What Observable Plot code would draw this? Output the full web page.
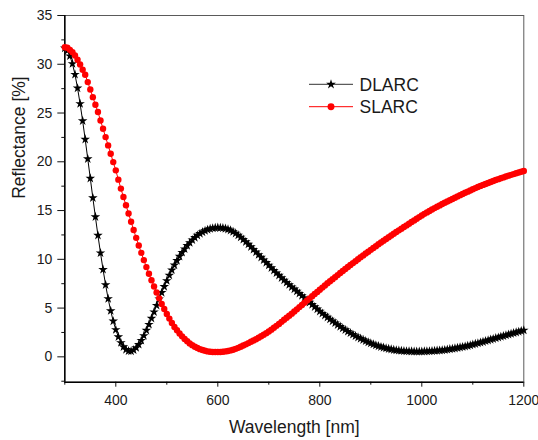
<!DOCTYPE html>
<html>
<head>
<meta charset="utf-8">
<script src="https://cdn.jsdelivr.net/npm/d3@7"></script>
<script src="https://cdn.jsdelivr.net/npm/@observablehq/plot@0.6"></script>
<style>
  html, body { margin: 0; padding: 0; background: #fff; }
  #chart { position: relative; width: 538px; height: 440px; }
</style>
</head>
<body>
<div id="chart"></div>
<script>
// Wavelength grid (nm)
const wavelength = [
  300,305,310,315,320,325,330,335,340,345,
  350,355,360,365,370,375,380,385,390,395,
  400,405,410,415,420,425,430,435,440,445,
  450,455,460,465,470,475,480,485,490,495,
  500,505,510,515,520,525,530,535,540,545,
  550,555,560,565,570,575,580,585,590,595,
  600,605,610,615,620,625,630,635,640,645,
  650,655,660,665,670,675,680,685,690,695,
  700,705,710,715,720,725,730,735,740,745,
  750,755,760,765,770,775,780,785,790,795,
  800,805,810,815,820,825,830,835,840,845,
  850,855,860,865,870,875,880,885,890,895,
  900,905,910,915,920,925,930,935,940,945,
  950,955,960,965,970,975,980,985,990,995,
  1000,1005,1010,1015,1020,1025,1030,1035,1040,1045,
  1050,1055,1060,1065,1070,1075,1080,1085,1090,1095,
  1100,1105,1110,1115,1120,1125,1130,1135,1140,1145,
  1150,1155,1160,1165,1170,1175,1180,1185,1190,1195,
  1200
];
// DLARC reflectance (%)
const dlarc = [
  31.65,31.4,30.85,30.05,28.95,27.55,25.95,24.2,22.3,20.3,
  18.3,16.3,14.35,12.45,10.65,8.95,7.38,5.96,4.72,3.66,
  2.78,2.05,1.45,1.02,0.74,0.6,0.58,0.7,0.93,1.26,
  1.68,2.17,2.72,3.32,3.95,4.6,5.27,5.93,6.58,7.2,
  7.8,8.36,8.9,9.4,9.87,10.3,10.7,11.06,11.4,11.7,
  11.98,12.23,12.45,12.63,12.79,12.93,13.04,13.13,13.19,13.23,
  13.25,13.24,13.21,13.15,13.07,12.97,12.83,12.66,12.47,12.26,
  12.03,11.79,11.54,11.28,11.01,10.74,10.47,10.2,9.93,9.66,
  9.39,9.12,8.86,8.6,8.35,8.1,7.86,7.62,7.39,7.16,
  6.94,6.72,6.5,6.27,6.04,5.81,5.58,5.35,5.12,4.89,
  4.66,4.45,4.25,4.05,3.85,3.66,3.47,3.28,3.1,2.93,
  2.76,2.6,2.44,2.29,2.14,2.0,1.87,1.74,1.62,1.5,
  1.39,1.29,1.19,1.1,1.02,0.95,0.88,0.82,0.77,0.72,
  0.68,0.65,0.62,0.6,0.58,0.57,0.56,0.55,0.55,0.55,
  0.55,0.56,0.57,0.58,0.6,0.62,0.64,0.66,0.68,0.71,
  0.75,0.79,0.83,0.87,0.92,0.97,1.02,1.07,1.13,1.19,
  1.26,1.33,1.4,1.47,1.54,1.62,1.69,1.77,1.84,1.92,
  1.99,2.07,2.14,2.22,2.29,2.37,2.44,2.51,2.58,2.66,
  2.73
];
// SLARC reflectance (%)
const slarc = [
  31.75,31.69,31.48,31.24,30.9,30.46,29.98,29.44,28.93,28.17,
  27.42,26.63,25.85,25.1,24.24,23.39,22.53,21.68,20.83,19.97,
  19.12,18.17,17.25,16.39,15.54,14.7,13.85,13.0,12.2,11.42,
  10.66,9.92,9.2,8.52,7.86,7.22,6.6,6.0,5.43,4.9,
  4.4,3.92,3.48,3.07,2.72,2.4,2.1,1.83,1.6,1.38,
  1.2,1.04,0.9,0.79,0.7,0.62,0.56,0.52,0.5,0.49,
  0.49,0.5,0.52,0.56,0.6,0.66,0.73,0.82,0.92,1.04,
  1.16,1.28,1.41,1.54,1.67,1.81,1.96,2.11,2.27,2.43,
  2.6,2.79,2.98,3.18,3.38,3.59,3.8,4.01,4.22,4.43,
  4.65,4.87,5.1,5.32,5.55,5.78,6.0,6.22,6.44,6.66,
  6.88,7.1,7.32,7.54,7.75,7.96,8.17,8.38,8.59,8.8,
  9.01,9.21,9.41,9.61,9.81,10.01,10.21,10.4,10.59,10.78,
  10.97,11.16,11.35,11.54,11.72,11.9,12.08,12.26,12.44,12.62,
  12.8,12.97,13.14,13.31,13.48,13.65,13.82,13.99,14.16,14.33,
  14.5,14.66,14.81,14.96,15.11,15.25,15.39,15.53,15.67,15.8,
  15.93,16.06,16.19,16.32,16.45,16.58,16.7,16.82,16.94,17.06,
  17.18,17.3,17.42,17.53,17.63,17.73,17.83,17.93,18.03,18.13,
  18.22,18.31,18.4,18.49,18.58,18.66,18.74,18.82,18.9,18.98,
  19.05
];
const seriesNames = ["DLARC", "SLARC"];
const xMajorTicks = [400, 600, 800, 1000, 1200];
const xMinorTicks = [300, 500, 700, 900, 1100];
const yMajorTicks = [0, 5, 10, 15, 20, 25, 30, 35];
const yMinorTicks = [-2.5, 2.5, 7.5, 12.5, 17.5, 22.5, 27.5, 32.5];
const xDomain = [300, 1200];
const yDomain = [-2.6, 35];
const xTitle = "Wavelength [nm]";
const yTitle = "Reflectance [%]";

const dData = wavelength.map((w, i) => ({w, r: dlarc[i]}));
const sData = wavelength.map((w, i) => ({w, r: slarc[i]}));

const font = "'Liberation Sans', Arial, Helvetica, sans-serif";

const plot = Plot.plot({
  width: 538,
  height: 440,
  marginLeft: 64.3,
  marginRight: 14.7,
  marginTop: 15,
  marginBottom: 58.3,
  x: {domain: xDomain},
  y: {domain: yDomain},
  style: {fontFamily: font, fontSize: "14px", color: "#1a1a1a", background: "#fff", overflow: "visible"},
  marks: [
    Plot.frame({stroke: "#5a5a5a", strokeWidth: 1}),
    Plot.axisX({ticks: xMajorTicks, tickSize: 5, tickPadding: 8.3, tickFormat: d => String(d), label: null, fontSize: 14, stroke: "#111"}),
    Plot.axisX({ticks: xMinorTicks, tickSize: 3, tickFormat: () => "", label: null, stroke: "#111"}),
    Plot.axisY({ticks: yMajorTicks, tickSize: 7, tickPadding: 5.5, tickFormat: d => String(d), label: null, fontSize: 14, stroke: "#111"}),
    Plot.axisY({ticks: yMinorTicks, tickSize: 3, tickFormat: () => "", label: null, stroke: "#111"}),
    Plot.ruleX([xDomain[0]], {stroke: "#000", strokeWidth: 1.5}),
    Plot.ruleY([yDomain[0]], {stroke: "#000", strokeWidth: 1.5}),
    Plot.line(dData, {x: "w", y: "r", stroke: "#000", strokeWidth: 1}),
    Plot.dot(dData, {x: "w", y: "r", symbol: "star", r: 3.0, fill: "#000", stroke: "none"}),
    Plot.line(sData, {x: "w", y: "r", stroke: "#ff0000", strokeWidth: 1}),
    Plot.dot(sData, {x: "w", y: "r", symbol: "circle", r: 3.2, fill: "#ff0000", stroke: "none"}),
    Plot.text([xTitle], {frameAnchor: "bottom", dy: 44.7, text: d => d, fontSize: 17.5, fill: "#1a1a1a", lineAnchor: "middle"}),
    Plot.text([yTitle], {frameAnchor: "left", dx: -45, rotate: -90, text: d => d, fontSize: 17.5, fill: "#1a1a1a", lineAnchor: "middle"})
  ]
});

document.getElementById("chart").appendChild(plot);

// Legend drawn into the plot's SVG
const svg = d3.select(plot);
const legend = svg.append("g").attr("font-family", font).attr("font-size", 17.5).attr("fill", "#1a1a1a").attr("text-anchor", "start");
const rows = [
  {name: seriesNames[0], color: "#000", symbol: d3.symbolStar, lineColor: "#333", y: 84.3, size: 30},
  {name: seriesNames[1], color: "#ff0000", symbol: d3.symbolCircle, lineColor: "#ff0000", y: 106.7, size: 38}
];
rows.forEach(r => {
  legend.append("line").attr("x1", 309).attr("x2", 353).attr("y1", r.y).attr("y2", r.y)
    .attr("stroke", r.lineColor).attr("stroke-width", 1);
  legend.append("path").attr("d", d3.symbol(r.symbol, r.size)())
    .attr("transform", `translate(331,${r.y})`).attr("fill", r.color);
  legend.append("text").attr("x", 359.5).attr("y", r.y).attr("dy", "0.36em")
    .attr("text-anchor", "start").text(r.name);
});
</script>
</body>
</html>
